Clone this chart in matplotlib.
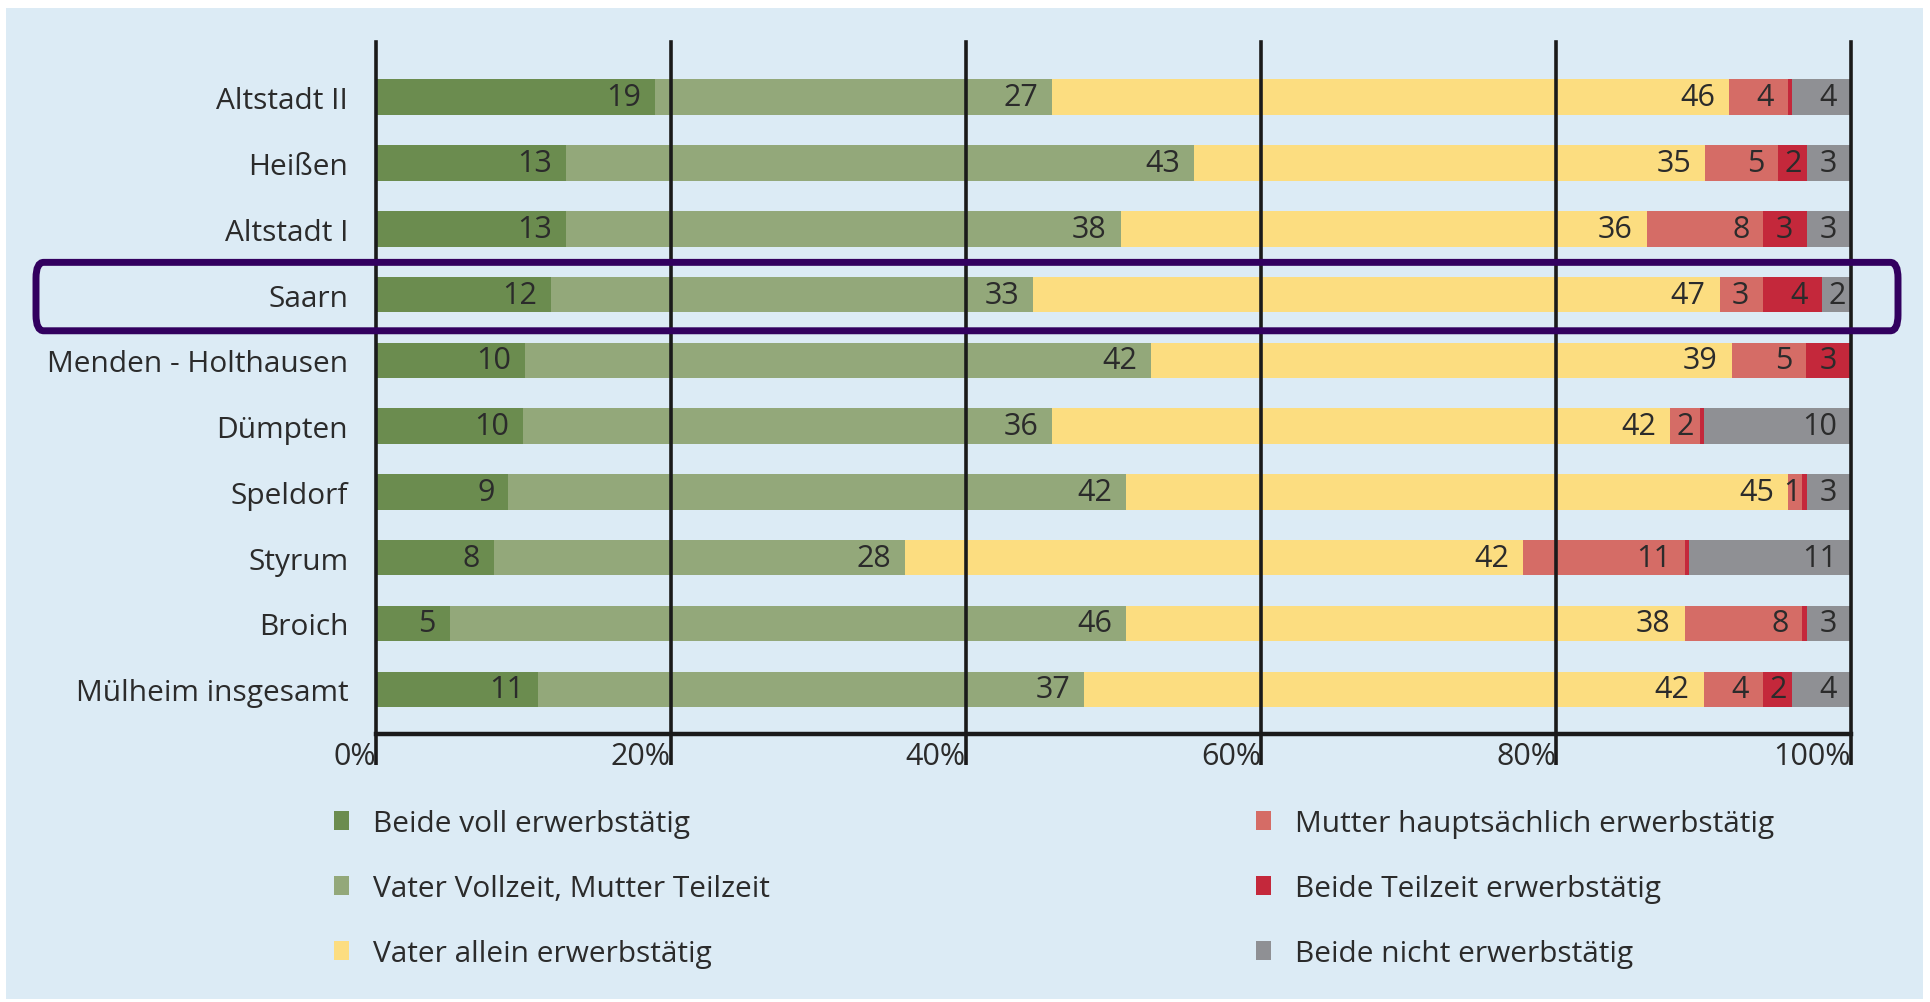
import numpy as np
import matplotlib.pyplot as plt
import matplotlib.transforms as mtransforms
from matplotlib.patches import Patch, Rectangle, FancyBboxPatch

plt.rcParams['font.family'] = ['Open Sans', 'DejaVu Sans']

# Stadtteile von oben nach unten
stadtteile = ['Altstadt II', 'Heißen', 'Altstadt I', 'Saarn', 'Menden - Holthausen',
              'Dümpten', 'Speldorf', 'Styrum', 'Broich', 'Mülheim insgesamt']

# Anteile in %
beide_voll = [19, 13, 13, 12, 10, 10, 9, 8, 5, 11]
vater_voll_mutter_teil = [27, 43, 38, 33, 42, 36, 42, 28, 46, 37]
vater_allein = [46, 35, 36, 47, 39, 42, 45, 42, 38, 42]
mutter_haupt = [4, 5, 8, 3, 5, 2, 1, 11, 8, 4]
beide_teilzeit = [0.3, 2, 3, 4, 3, 0.3, 0.3, 0.3, 0.3, 2]
beide_nicht = [4, 3, 3, 2, 0, 10, 3, 11, 3, 4]

kategorien = ['Beide voll erwerbstätig', 'Vater Vollzeit, Mutter Teilzeit',
              'Vater allein erwerbstätig', 'Mutter hauptsächlich erwerbstätig',
              'Beide Teilzeit erwerbstätig', 'Beide nicht erwerbstätig']
farben = ['#6b8c4f', '#93a87a', '#fcdd80', '#d56c66', '#c4283b', '#8f9094']

hervorgehoben = 'Saarn'

serien = np.array([beide_voll, vater_voll_mutter_teil, vater_allein,
                   mutter_haupt, beide_teilzeit, beide_nicht], dtype=float)
# auf 100 % normieren (gerundete Werte)
anteile = serien / serien.sum(axis=0) * 100

fig = plt.figure(figsize=(19.30, 10.03), dpi=100)
bg = '#dcebf5'
fig.patches.append(Rectangle((6 / 1930, 3 / 1003), 1917 / 1930, 991 / 1003,
                             transform=fig.transFigure, facecolor=bg,
                             edgecolor='none', zorder=-5))

ax = fig.add_axes([376 / 1930, 268 / 1003, 1475 / 1930, 692 / 1003])
ax.set_facecolor('none')
ax.set_zorder(2)

y = np.arange(len(stadtteile))
left = np.zeros(len(stadtteile))
for i in range(len(kategorien)):
    ax.barh(y, anteile[i], left=left, height=0.54, color=farben[i],
            linewidth=0, zorder=1)
    for j in range(len(stadtteile)):
        v = serien[i, j]
        if v >= 1:
            # kleine Segmente: Zahl näher an den Rand
            pad = 10 if v >= 3 else (4 if v >= 2 else 1)
            ax.annotate(f'{v:.0f}', xy=(left[j] + anteile[i, j], y[j]),
                        xytext=(-pad, 0), textcoords='offset points',
                        ha='right', va='center', fontsize=22, color='#2b2b2b',
                        zorder=4)
    left += anteile[i]

ax.set_xlim(0, 100)
ax.set_ylim(9.68, -0.84)
ax.set_yticks(y)
ax.set_yticklabels(stadtteile, fontsize=21.5, color='#2b2b2b')
ax.tick_params(axis='y', length=0, pad=20)

ax.set_xticks([0, 20, 40, 60, 80, 100])
ax.set_xticklabels(['0%', '20%', '40%', '60%', '80%', '100%'], fontsize=22,
                   color='#2b2b2b', ha='right')
ax.tick_params(axis='x', direction='out', length=22, width=2.6, color='#1a1a1a', pad=-17)
ax.xaxis.grid(True, color='#1a1a1a', linewidth=2.6, clip_on=False)
ax.set_axisbelow(False)

for s in ['left', 'right', 'top']:
    ax.spines[s].set_visible(False)
ax.spines['bottom'].set_linewidth(3.2)
ax.spines['bottom'].set_color('#1a1a1a')

# Rahmen um hervorgehobenen Stadtteil
k = stadtteile.index(hervorgehoben)
trans = mtransforms.blended_transform_factory(fig.transFigure, ax.transData)
ax.add_patch(FancyBboxPatch((36 / 1930, k - 0.49), 1862 / 1930, 1.04,
                            boxstyle='round,pad=0,rounding_size=0.004',
                            transform=trans, facecolor='none', edgecolor='#32005f',
                            linewidth=5, clip_on=False, zorder=5,
                            mutation_aspect=60))

handles = [Patch(facecolor=c, edgecolor='none') for c in farben]
leg_kw = dict(frameon=False, fontsize=21.5, handlelength=0.5, handleheight=0.6,
              handletextpad=0.8, labelspacing=1.2, borderpad=0, borderaxespad=0,
              labelcolor='#2b2b2b')
fig.legend(handles[:3], kategorien[:3], loc='upper left',
           bbox_to_anchor=(334 / 1930, 1 - 810 / 1003), **leg_kw)
fig.legend(handles[3:], kategorien[3:], loc='upper left',
           bbox_to_anchor=(1256 / 1930, 1 - 810 / 1003), **leg_kw)

fig.savefig('out.png', dpi=100, facecolor='white')
